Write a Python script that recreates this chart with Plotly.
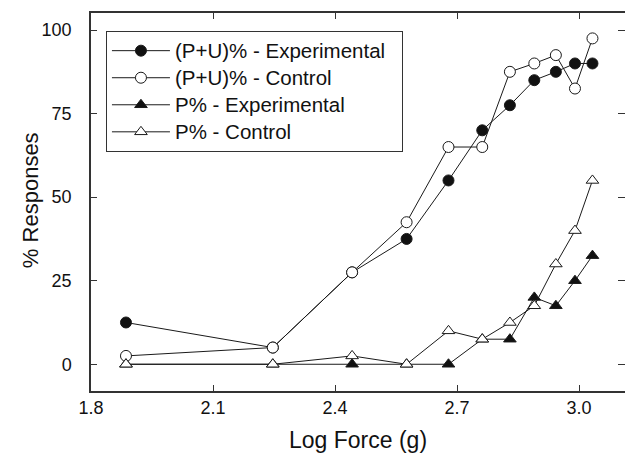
import plotly.graph_objects as go

log_force = [1.886, 2.247, 2.442, 2.576, 2.679, 2.762, 2.830, 2.890, 2.943, 2.990, 3.033]
pu_exp = [12.5, 5.0, 27.5, 37.5, 55.0, 70.0, 77.5, 85.0, 87.5, 90.0, 90.0]
pu_ctrl = [2.5, 5.0, 27.5, 42.5, 65.0, 65.0, 87.5, 90.0, 92.5, 82.5, 97.5]
p_exp = [0.0, 0.0, 0.0, 0.0, 0.0, 7.5, 7.5, 20.0, 17.5, 25.0, 32.5]
p_ctrl = [0.0, 0.0, 2.5, 0.0, 10.0, 7.5, 12.5, 17.5, 30.0, 40.0, 55.0]

series_names = ["(P+U)% - Experimental", "(P+U)% - Control", "P% - Experimental", "P% - Control"]
x_ticks = [1.8, 2.1, 2.4, 2.7, 3.0]
x_tick_labels = ["1.8", "2.1", "2.4", "2.7", "3.0"]
y_ticks = [0, 25, 50, 75, 100]
x_title = "Log Force (g)"
y_title = "% Responses"

FONT = "Liberation Sans, Arial, sans-serif"
LINE = "#1a1a1a"
TXT = "#111111"

styles = [
    dict(symbol="circle", fill="#111111"),
    dict(symbol="circle", fill="white"),
    dict(symbol="triangle-up", fill="#111111"),
    dict(symbol="triangle-up", fill="white"),
]
data = [pu_exp, pu_ctrl, p_exp, p_ctrl]

fig = go.Figure()
for name, ys, st in zip(series_names, data, styles):
    fig.add_trace(go.Scatter(
        x=log_force, y=ys,
        name='<span style="font-size:20.5px">' + name + '\u00a0\u00a0</span>',
        mode="lines+markers",
        line=dict(color=LINE, width=1),
        marker=dict(symbol=st["symbol"], size=11, color=st["fill"],
                    line=dict(color=LINE, width=1)),
        cliponaxis=False,
    ))

# right-hand mirrored ticks without a spine
fig.add_trace(go.Scatter(x=[None], y=[None], yaxis="y2", showlegend=False, hoverinfo="skip"))

yrange = [-8, 105.1]
fig.update_layout(
    width=625, height=465,
    margin=dict(l=91, r=0, t=13, b=74),
    paper_bgcolor="white", plot_bgcolor="white",
    font=dict(family=FONT, color=TXT),
    showlegend=True,
    legend=dict(
        x=0.028, y=0.952, xanchor="left", yanchor="top",
        bgcolor="white", bordercolor="#333333", borderwidth=1,
        font=dict(size=18.5, family=FONT, color=TXT),
        itemwidth=58, tracegroupgap=0,
    ),
    xaxis=dict(
        range=[1.8, 3.113], tickvals=x_ticks, ticktext=x_tick_labels,
        ticks="inside", ticklen=6, tickwidth=1.2, tickcolor="#333333",
        showline=True, linecolor="#333333", linewidth=1.5, mirror="ticks",
        showgrid=False, zeroline=False,
        tickfont=dict(size=18, family=FONT, color=TXT),
    ),
    yaxis=dict(
        range=yrange, tickvals=y_ticks,
        ticks="inside", ticklen=6, tickwidth=1.2, tickcolor="#333333",
        showline=True, linecolor="#333333", linewidth=1.5,
        showgrid=False, zeroline=False,
        tickfont=dict(size=18, family=FONT, color=TXT),
        ticklabelstandoff=14,
    ),
    yaxis2=dict(
        range=yrange, tickvals=y_ticks, overlaying="y", side="right",
        ticks="inside", ticklen=7, tickwidth=1.2, tickcolor="#333333",
        showline=False, showgrid=False, zeroline=False, showticklabels=False,
    ),
    annotations=[
        dict(text=x_title, xref="paper", yref="paper", x=0.5, y=-0.1296,
             xanchor="center", yanchor="middle", showarrow=False,
             font=dict(size=23, family=FONT, color=TXT)),
        dict(text=y_title, xref="paper", yref="paper", x=-0.1142, y=0.505,
             xanchor="center", yanchor="middle", showarrow=False, textangle=-90,
             font=dict(size=22, family=FONT, color=TXT)),
    ],
)

fig.write_html("out.html")
